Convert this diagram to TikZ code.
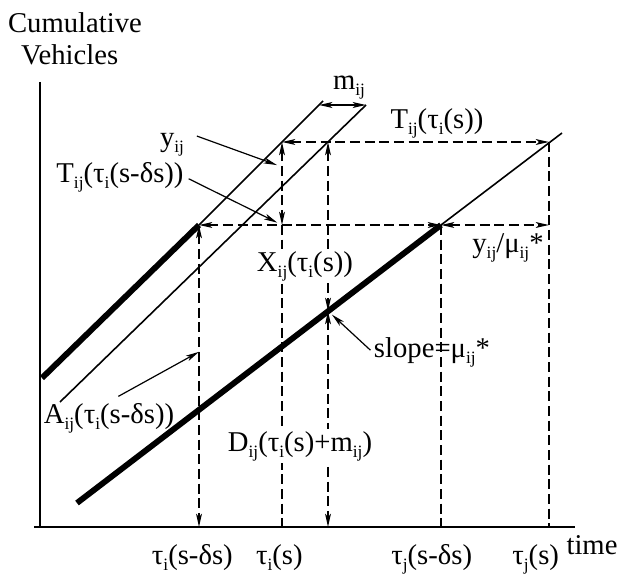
\documentclass[tikz,border=0pt]{standalone}
\usepackage{fontspec}
\setmainfont{Liberation Serif}
\usepackage{tikz}
\usetikzlibrary{positioning,arrows.meta,calc}
\newcommand{\ssub}[1]{\raisebox{-4.5pt}{\fontsize{13}{13}\selectfont #1}}
\tikzset{
  >={Stealth[length=10pt,width=4.4pt,inset=2.5pt]},
  axisln/.style={line width=1.5pt},
  cumthick/.style={line width=4.4pt},
  cumthin/.style={line width=1.2pt},
  dimln/.style={<->,line width=1.1pt,dash pattern=on 7.5pt off 3.5pt},
  guideln/.style={line width=1.1pt,dash pattern=on 7.5pt off 3.5pt},
  ptr/.style={->,line width=0.9pt},
  lbl/.style={font=\fontsize{21.5}{25}\selectfont,inner sep=1pt},
  lblw/.style={lbl,fill=white,inner sep=2pt},
}
\begin{document}
\begin{tikzpicture}[x=0.75pt,y=-0.75pt]
  \useasboundingbox (0,0) rectangle (628,577);
  \coordinate (o) at (40,527);
  \coordinate (ytop) at (40,82);
  \coordinate (xbeg) at (34,527);
  \coordinate (xend) at (575,527);
  \coordinate (a0) at (42,378);
  \coordinate (p1) at (199,225);
  \coordinate (a2) at (323,101);
  \coordinate (b0) at (60,402);
  \coordinate (b2) at (366,105);
  \coordinate (m1) at (319,105);
  \coordinate (d0) at (77,503);
  \coordinate (p6) at (441,225);
  \coordinate (d2) at (562,133);
  \coordinate (p2) at (282,142);
  \coordinate (p3) at (282,225);
  \coordinate (p4) at (328,142);
  \coordinate (p5) at (328,311);
  \coordinate (p7) at (549,142);
  \coordinate (p8) at (549,225);
  \coordinate (f1) at (p1 |- o);
  \coordinate (f2) at (p2 |- o);
  \coordinate (f3) at (p4 |- o);
  \coordinate (f4) at (p6 |- o);
  \coordinate (f5) at (p7 |- o);

  \draw[axisln] (ytop) -- (o);
  \draw[axisln] (xbeg) -- (xend);
  \draw[cumthick] (a0) -- (p1);
  \draw[cumthin] (p1) -- (a2);
  \draw[cumthin] (b0) -- (b2);
  \draw[cumthick] (d0) -- (p6);
  \draw[cumthin] (p6) -- (d2);
  \draw[<->,cumthin] (m1) -- (b2);

  \draw[dimln] (p2) -- (p7);
  \draw[dimln] (p2) -- (p3);
  \draw[dimln] (p1) -- (p6);
  \draw[dimln] (p6) -- (p8);
  \draw[dimln] (p1) -- (f1);
  \draw[guideln] (p3) -- (f2);
  \draw[dimln] (p4) -- (p5);
  \draw[dimln] (p5) -- (f3);
  \draw[guideln] (p6) -- (f4);
  \draw[guideln] (p7) -- (f5);

  \node[lbl] (cum) at (75,23) {Cumulative};
  \node[lbl,below=6pt of cum,xshift=-4pt] (veh) {Vehicles};
  \node[lbl] (yl) at (172,145) {y\ssub{ij}};
  \node[lbl] (tl) at (120,177) {T\ssub{ij}(τ\ssub{i}(s-δs))};
  \node[lbl] (ml) at (349,88) {m\ssub{ij}};
  \node[lbl] (tsl) at (437,123) {T\ssub{ij}(τ\ssub{i}(s))};
  \node[lblw] (xl) at (305,266) {X\ssub{ij}(τ\ssub{i}(s))};
  \node[lbl] (yml) at (508,248) {y\ssub{ij}/μ\ssub{ij}*};
  \node[lbl] (sl) at (432,352) {slope=μ\ssub{ij}*};
  \node[lbl] (al) at (109,418) {A\ssub{ij}(τ\ssub{i}(s-δs))};
  \node[lblw] (dl) at (300,446) {D\ssub{ij}(τ\ssub{i}(s)+m\ssub{ij})};
  \node[lbl,below=12pt of f1,xshift=-5pt] (t1) {τ\ssub{i}(s-δs)};
  \node[lbl,below=12pt of f2,xshift=-2pt] (t2) {τ\ssub{i}(s)};
  \node[lbl,below=12pt of f4,xshift=-7pt] (t3) {τ\ssub{j}(s-δs)};
  \node[lbl,below=12pt of f5,xshift=-10pt] (t4) {τ\ssub{j}(s)};
  \node[lbl] (tm) at (592,545) {time};

  \draw[ptr,shorten <=9pt,shorten >=4pt] (yl.north east) -- ($(p2)!.3!(p3)$);
  \draw[ptr,shorten <=3pt,shorten >=4pt] (tl.east) -- (p3);
  \draw[ptr,shorten <=8pt] (al.north) -- ($(p1)!.42!(f1)$);
  \draw[ptr,shorten <=2pt,shorten >=4pt] (sl.west) -- (p5);
\end{tikzpicture}
\end{document}
